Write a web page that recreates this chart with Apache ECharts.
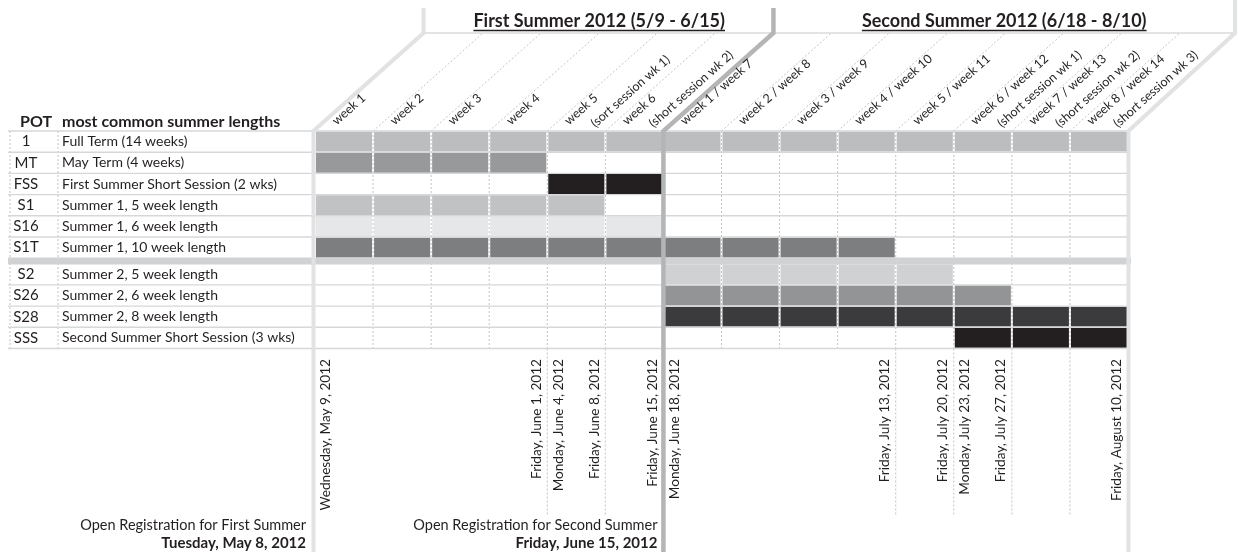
<!DOCTYPE html>
<html><head><meta charset="utf-8">
<script src="https://cdn.jsdelivr.net/npm/echarts@6/dist/echarts.min.js"></script>
<style>html,body{margin:0;padding:0;background:#fff}#c{width:1238px;height:552px}</style>
</head><body><div id="c"></div>
<script>
// ---------- DATA ----------
const potCodes = ['1','MT','FSS','S1','S16','S1T','S2','S26','S28','SSS'];
const lengthLabels = [
  'Full Term (14 weeks)',
  'May Term (4 weeks)',
  'First Summer Short Session (2 wks)',
  'Summer 1, 5 week length',
  'Summer 1, 6 week length',
  'Summer 1, 10 week length',
  'Summer 2, 5 week length',
  'Summer 2, 6 week length',
  'Summer 2, 8 week length',
  'Second Summer Short Session (3 wks)'
];
const startWeek = [1,1,5,1,1,1,7,7,7,12];
const endWeek   = [14,4,6,5,6,10,11,12,14,14];
const weekLabelLine1 = ['week 1','week 2','week 3','week 4','week 5','week 6',
  'week 1 / week 7','week 2 / week 8','week 3 / week 9','week 4 / week 10','week 5 / week 11',
  'week 6 / week 12','week 7 / week 13','week 8 / week 14'];
const weekLabelLine2 = ['','','','','(sort session wk 1)','(short session wk 2)',
  '','','','','','(short session wk 1)','(short session wk 2)','(short session wk 3)'];
const sessionTitles = ['First Summer 2012 (5/9 - 6/15)','Second Summer 2012 (6/18 - 8/10)'];
const sessionStartWeek = [0, 6];
const sessionEndWeek = [6, 14];
const dateLabels = ['Wednesday, May 9, 2012','Friday, June 1, 2012','Monday, June 4, 2012',
  'Friday, June 8, 2012','Friday, June 15, 2012','Monday, June 18, 2012','Friday, July 13, 2012',
  'Friday, July 20, 2012','Monday, July 23, 2012','Friday, July 27, 2012','Friday, August 10, 2012'];
const dateBoundary = [0,4,4,5,6,6,10,11,11,12,14];
const dateSide = ['start','end','start','end','end','start','end','end','start','end','end'];
const extendedBoundaries = [4,5,10,11,12,13];
const registrationTitles = ['Open Registration for First Summer','Open Registration for Second Summer'];
const registrationDates = ['Tuesday, May 8, 2012','Friday, June 15, 2012'];
const registrationBoundary = [0, 6];
const headerPot = 'POT';
const headerLengths = 'most common summer lengths';

// ---------- STYLE ----------
const ROW_COLORS = ['#bcbdbf','#98999b','#231f20','#c1c2c4','#e6e7e8','#7d7e80','#d0d1d3','#939496','#3b3b3d','#231f20'];
const INK = '#231f20';
const FONT = 'Lato, "Open Sans", sans-serif';
const GAP = 0.26;
const SPLIT_AFTER = 6;
const TH = Math.atan2(98, 110);

function rowTop(i){ return i + (i >= SPLIT_AFTER ? GAP : 0); }

const cells = [];
potCodes.forEach((c, i) => { for (let w = startWeek[i]; w <= endWeek[i]; w++) cells.push([w - 1, i]); });

function renderItem(params, api){
  const w = api.value(0), r = api.value(1);
  const a = api.coord([w, rowTop(r)]);
  const b = api.coord([w + 1, rowTop(r) + 1]);
  return {type:'rect', shape:{x:a[0] + 1, y:a[1] + 0.7, width:b[0] - a[0] - 2, height:b[1] - a[1] - 1.4},
          style:{fill: ROW_COLORS[r]}};
}

const chart = echarts.init(document.getElementById('c'), null, {renderer:'canvas'});
chart.setOption({
  animation:false,
  grid:{left:315, right:110, top:131, bottom:203.5},
  xAxis:{type:'value', min:0, max:14, show:false},
  yAxis:{type:'value', min:0, max:10 + GAP, inverse:true, show:false},
  series:[{type:'custom', data:cells, renderItem, z:5, silent:true}]
});

const px = k => chart.convertToPixel({gridIndex:0}, [k, 0])[0];
const py = u => chart.convertToPixel({gridIndex:0}, [0, u])[1];
const measure = (t, f) => { const ctx = document.createElement('canvas').getContext('2d'); ctx.font = f; return ctx.measureText(t).width; };

const G = [];
const line = (x1,y1,x2,y2,stroke,w,z,dash) => G.push({type:'line', shape:{x1,y1,x2,y2}, style:{stroke, lineWidth:w, lineDash:dash||null}, z, silent:true});
const poly = (pts,stroke,w,z) => G.push({type:'polyline', shape:{points:pts}, style:{stroke, lineWidth:w, fill:null, lineJoin:'miter'}, z, silent:true});
const text = (x,y,t,font,align,va,rot,z) => G.push({type:'text', x, y, rotation:rot||0, style:{text:t, font, fill:INK, align, verticalAlign:va}, z:z||8, silent:true});

const gTop = py(0), gBot = py(10 + GAP);
const xL = px(0), xR = px(14);
const DX = 110;
const TOPY = 33;

// dotted verticals in grid
for (let k = 1; k < 14; k++) {
  if (k === 6) continue;
  line(px(k), gTop, px(k), gBot, '#c4c4c4', 1, 1, [2,2]);
  line(px(k), gTop, px(k) + DX, TOPY, '#c4c4c4', 1, 1, [2,2]);
}
extendedBoundaries.forEach(k => line(px(k), gBot, px(k), 516, '#c4c4c4', 1, 1, [2,2]));
// table dotted verticals
line(10, gTop, 10, gBot, '#c4c4c4', 1, 1, [2,2]);
line(58, gTop, 58, gBot, '#c4c4c4', 1, 1, [2,2]);

// row lines
const bounds = [];
for (let i = 0; i <= 10; i++) {
  if (i === SPLIT_AFTER) continue;
  bounds.push(i <= SPLIT_AFTER ? i : i + GAP);
}
bounds.forEach(u => line(8, py(u), xR + 0.5, py(u), '#d6d7d8', 1.4, 6));
// split band
G.push({type:'rect', shape:{x:8, y:py(SPLIT_AFTER) - 0.7, width:xR + 3 - 8, height:py(SPLIT_AFTER + GAP) - py(SPLIT_AFTER) + 1.4},
        style:{fill:'#d1d2d4'}, z:6, silent:true});

// thick frame lines
poly([[xL - 1.5, 552],[xL - 1.5, gTop],[xL - 1.5 + DX, TOPY],[xL - 1.5 + DX, 8]], '#e1e2e3', 4, 7);
poly([[px(6), 552],[px(6), gTop],[px(6) + DX, TOPY],[px(6) + DX, 8]], '#b4b5b7', 4.5, 7.5);
poly([[xR + 0.5, 552],[xR + 0.5, gTop],[1235, TOPY],[1235, 0]], '#e1e2e3', 4, 7);
line(xL - 1.5 + DX, TOPY, 1235, TOPY, '#d9dadb', 1.6, 6.5);

// session titles
sessionTitles.forEach((t, i) => {
  const a = px(sessionStartWeek[i]) + DX, b = Math.min(px(sessionEndWeek[i]) + DX, 1235);
  const cx = (a + b) / 2;
  const f = 'bold 18px ' + FONT;
  text(cx, 21, t, f, 'center', 'middle');
  const w = measure(t, f);
  line(cx - w/2, 30.5, cx + w/2, 30.5, INK, 1.3, 8);
});

// week labels
for (let k = 0; k < 14; k++) {
  const f = '12.5px ' + FONT;
  text(px(k) + 19, 122.5, weekLabelLine1[k], f, 'left', 'middle', TH);
  if (weekLabelLine2[k]) text(px(k) + 45.5, 125, weekLabelLine2[k], f, 'left', 'middle', TH);
}

// header
text(20, 122, headerPot, 'bold 16px ' + FONT, 'left', 'middle');
text(62, 122, headerLengths, 'bold 16px ' + FONT, 'left', 'middle');

// table text
potCodes.forEach((c, i) => {
  const yc = py(rowTop(i) + 0.5);
  text(26, yc, c, '15px ' + FONT, 'center', 'middle');
  text(62, yc, lengthLabels[i], '14px ' + FONT, 'left', 'middle');
});

// date labels
dateLabels.forEach((t, i) => {
  const x = px(dateBoundary[i]) + (dateSide[i] === 'start' ? 11 : -11);
  text(x, 359, t, '13.6px ' + FONT, 'right', 'middle', Math.PI / 2);
});

// registration notes
registrationTitles.forEach((t, i) => {
  const x = px(registrationBoundary[i]) - (i === 0 ? 9 : 6);
  text(x, 525, t, '14.5px ' + FONT, 'right', 'middle');
  text(x, 543, registrationDates[i], 'bold 15px ' + FONT, 'right', 'middle');
});

chart.setOption({graphic:{elements:G}});
</script></body></html>
